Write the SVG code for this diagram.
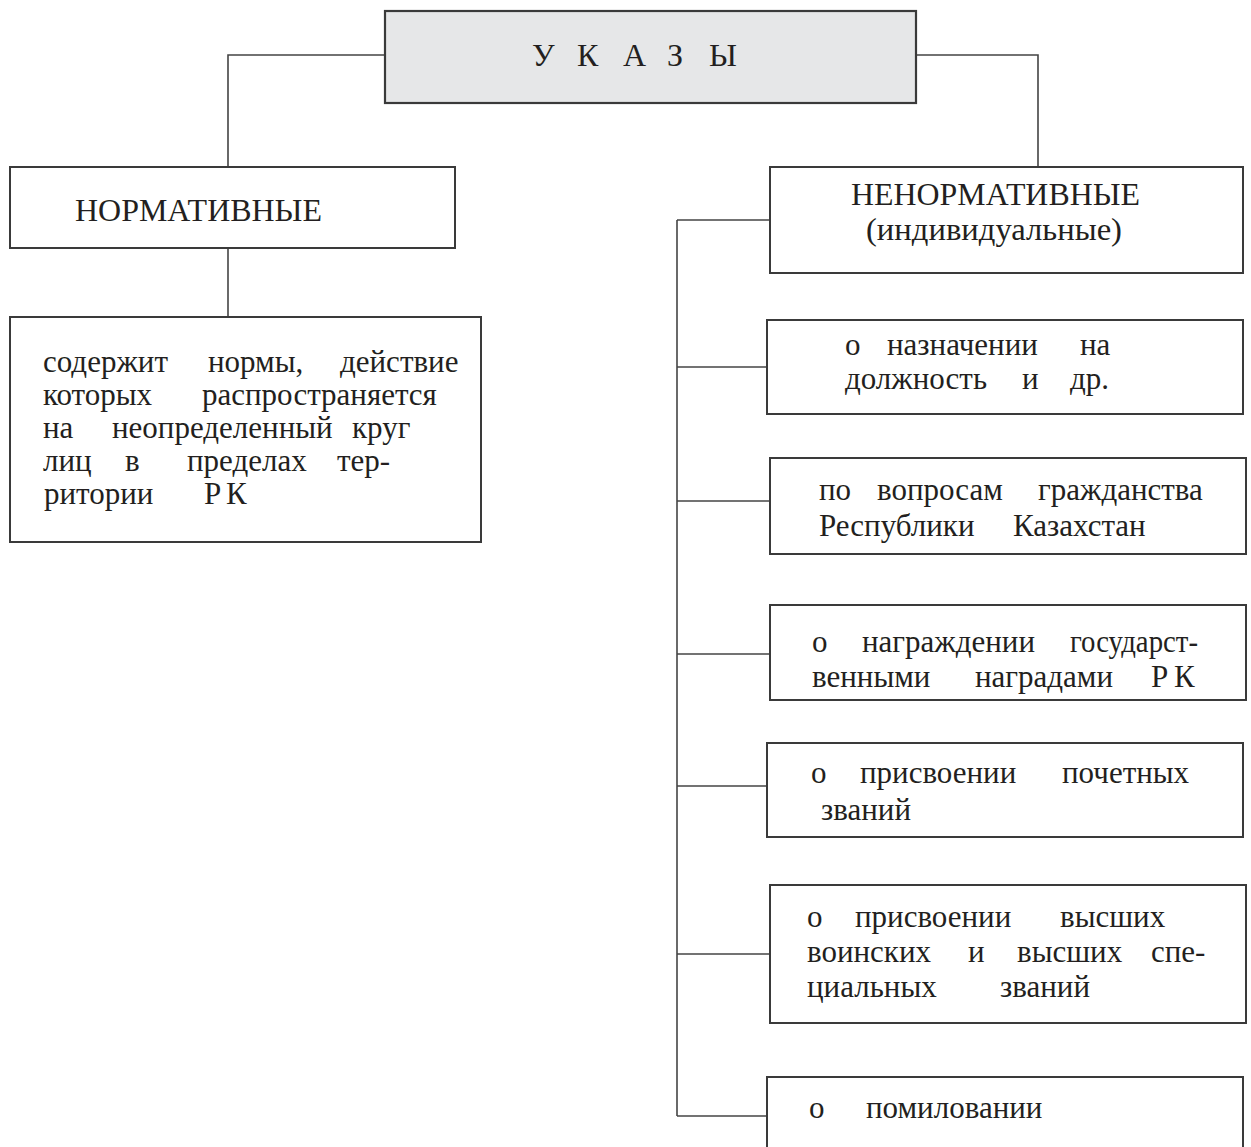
<svg xmlns="http://www.w3.org/2000/svg" width="1251" height="1147" viewBox="0 0 1251 1147">
<style>
.box{fill:#fff;stroke:#3a3a3a;stroke-width:2}
.top{fill:#e6e7e8;stroke:#3a3a3a;stroke-width:2.2}
.con{fill:none;stroke:#444;stroke-width:1.6}
text{font-family:"Liberation Serif","Times New Roman",serif;font-size:31px;fill:#231f20}
</style>
<rect width="1251" height="1147" fill="#fff"/>
<g id="connectors">
<polyline class="con" points="385,55 228,55 228,167"/>
<polyline class="con" points="916,55 1038,55 1038,167"/>
<line class="con" x1="228" y1="248" x2="228" y2="317"/>
<line class="con" x1="677" y1="220" x2="677" y2="1116"/>
<line class="con" x1="677" y1="220" x2="770" y2="220"/>
<line class="con" x1="677" y1="367" x2="767" y2="367"/>
<line class="con" x1="677" y1="501" x2="770" y2="501"/>
<line class="con" x1="677" y1="654" x2="770" y2="654"/>
<line class="con" x1="677" y1="786" x2="767" y2="786"/>
<line class="con" x1="677" y1="954" x2="770" y2="954"/>
<line class="con" x1="677" y1="1116" x2="767" y2="1116"/>
</g>
<g id="ukazy">
<rect class="top" x="385" y="11" width="531" height="92"/>
<text y="66" style="font-size:32px"><tspan x="532">У</tspan><tspan x="577">К</tspan><tspan x="623">А</tspan><tspan x="667">З</tspan><tspan x="709">Ы</tspan></text>
</g>
<g id="normativnye">
<rect class="box" x="10" y="167" width="445" height="81"/>
<text x="75" y="221" textLength="247" lengthAdjust="spacingAndGlyphs">НОРМАТИВНЫЕ</text>
</g>
<g id="normativnye-desc">
<rect class="box" x="10" y="317" width="471" height="225"/>
<text y="372"><tspan x="43">содержит</tspan><tspan x="208">нормы,</tspan><tspan x="340">действие</tspan></text>
<text y="405"><tspan x="43">которых</tspan><tspan x="202">распространяется</tspan></text>
<text y="438"><tspan x="43">на</tspan><tspan x="112">неопределенный</tspan><tspan x="352">круг</tspan></text>
<text y="471"><tspan x="43">лиц</tspan><tspan x="125">в</tspan><tspan x="187">пределах</tspan><tspan x="337">тер-</tspan></text>
<text y="504"><tspan x="44">ритории</tspan><tspan x="204">Р</tspan><tspan x="226">К</tspan></text>
</g>
<g id="nenormativnye">
<rect class="box" x="770" y="167" width="473" height="106"/>
<text x="851" y="205" textLength="289" lengthAdjust="spacingAndGlyphs">НЕНОРМАТИВНЫЕ</text>
<text x="866" y="240" textLength="256" lengthAdjust="spacingAndGlyphs">(индивидуальные)</text>
</g>
<g id="naznachenie">
<rect class="box" x="767" y="320" width="476" height="94"/>
<text y="355"><tspan x="845">о</tspan><tspan x="887">назначении</tspan><tspan x="1080">на</tspan></text>
<text y="389"><tspan x="845">должность</tspan><tspan x="1022">и</tspan><tspan x="1070">др.</tspan></text>
</g>
<g id="grazhdanstvo">
<rect class="box" x="770" y="458" width="476" height="96"/>
<text y="500"><tspan x="819">по</tspan><tspan x="877">вопросам</tspan><tspan x="1038">гражданства</tspan></text>
<text y="536"><tspan x="819">Республики</tspan><tspan x="1013">Казахстан</tspan></text>
</g>
<g id="nagrady">
<rect class="box" x="770" y="605" width="476" height="95"/>
<text y="652"><tspan x="812">о</tspan><tspan x="862">награждении</tspan><tspan x="1070" textLength="128" lengthAdjust="spacingAndGlyphs">государст-</tspan></text>
<text y="687"><tspan x="812">венными</tspan><tspan x="975">наградами</tspan><tspan x="1151">Р</tspan><tspan x="1174">К</tspan></text>
</g>
<g id="pochetnye">
<rect class="box" x="767" y="743" width="476" height="94"/>
<text y="783"><tspan x="811">о</tspan><tspan x="860">присвоении</tspan><tspan x="1062">почетных</tspan></text>
<text y="820"><tspan x="821">званий</tspan></text>
</g>
<g id="voinskie">
<rect class="box" x="770" y="885" width="476" height="138"/>
<text y="927"><tspan x="807">о</tspan><tspan x="855">присвоении</tspan><tspan x="1060">высших</tspan></text>
<text y="962"><tspan x="807">воинских</tspan><tspan x="968">и</tspan><tspan x="1017">высших</tspan><tspan x="1151">спе-</tspan></text>
<text y="997"><tspan x="807">циальных</tspan><tspan x="1000">званий</tspan></text>
</g>
<g id="pomilovanie">
<rect class="box" x="767" y="1077" width="476" height="80"/>
<text y="1118"><tspan x="809">о</tspan><tspan x="866">помиловании</tspan></text>
</g>
</svg>
